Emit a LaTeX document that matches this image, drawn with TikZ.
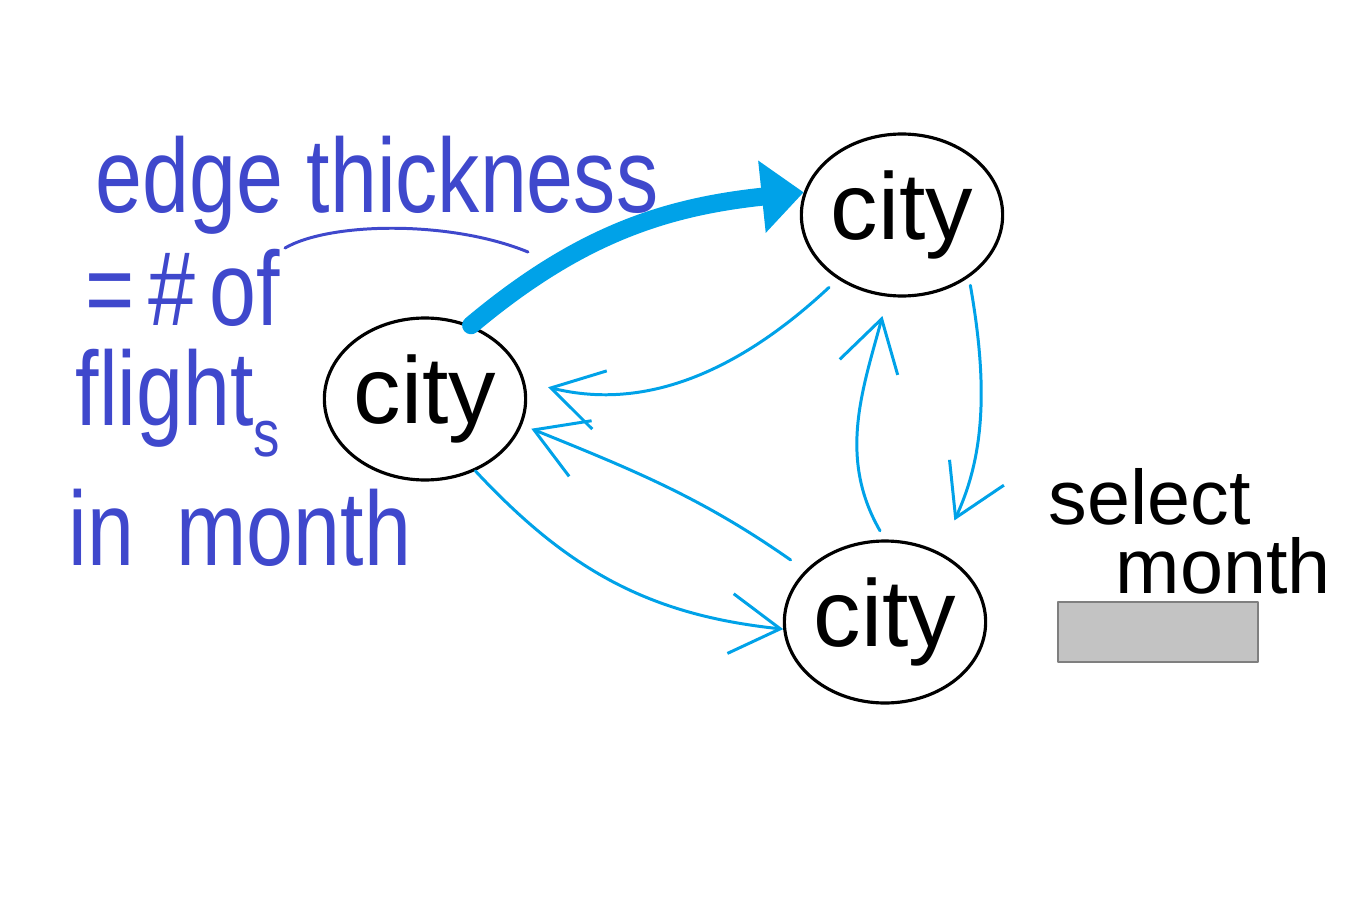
\documentclass[tikz,border=0pt]{standalone}
\usepackage{fontspec}
\setmainfont{Liberation Sans}
\usepackage{graphicx}
\usetikzlibrary{arrows.meta, shapes.geometric, positioning}
\definecolor{pen}{HTML}{3F48CC}
\definecolor{sky}{HTML}{00A2E8}
\definecolor{boxgray}{HTML}{C3C3C3}
\definecolor{rimgray}{HTML}{7F7F7F}

\begin{document}
\begin{tikzpicture}[x=0.1mm, y=0.1mm, line cap=round, line join=round,
    city/.style={ellipse, draw, line width=0.9pt, minimum width=19.4mm, minimum height=16.2mm, inner sep=0pt, font=\fontsize{27}{27}\selectfont},
    note/.style={anchor=base west, inner sep=0pt, text=pen, font=\fontsize{24}{24}\selectfont},
    hint/.style={anchor=base west, inner sep=0pt, font=\fontsize{22}{22}\selectfont},
    flow/.style={draw=sky, line width=0.85pt, -{Straight Barb[length=5mm, width=6mm]}},
    heavy/.style={draw=sky, line width=1.8mm, -{Triangle[length=4.2mm, width=7mm]}}]
    \useasboundingbox (0,0) rectangle (1353,902);
    \node[city](a) at (425,503){city};
    \node[city](b) at (902,687){city};
    \node[city](c) at (885,280){city};
    \node[note](t1) at (95,690){\scalebox{1}[1.25]{edge thickness}};
    \node[note](t2) at (85,577){\scalebox{1}[1.25]{=\,\#\,of}};
    \node[note](t3) at (75,477){\scalebox{1}[1.25]{flight\raisebox{-0.3em}{\fontsize{15}{15}\selectfont s}}};
    \node[note](t4) at (68,337){\scalebox{1}[1.25]{in\hspace{0.5em}month}};
    \draw[pen, line width=0.85pt] (285,654) .. controls (330,680) and (450,682) .. (528,650);
    \node[hint](s1) at (1048,378){select};
    \node[hint](s2) at (1115,309){month};
    \node[draw=rimgray, fill=boxgray, line width=0.8pt, minimum width=20mm, minimum height=6mm, inner sep=0pt](pick) at (1158,270){};
    \draw[heavy] (a.58) to[out=40, in=186] (b.167);
    \draw[flow, shorten <=1.2mm, shorten >=2.4mm] (b.225) to[out=223, in=-14] (a.10);
    \draw[flow, shorten <=1.8mm, shorten >=1mm] (c.147) to[out=145, in=-22] (a.-15);
    \draw[flow] (a.-55) to[out=-47, in=174] (c.184);
    \draw[flow, shorten <=0.8mm, shorten >=3.5mm] (b.-43) to[out=-80, in=65] (c.52);
    \draw[flow, shorten <=1mm, shorten >=2mm] (c.90) to[out=120, in=-105] (b.-100);
\end{tikzpicture}
\end{document}
